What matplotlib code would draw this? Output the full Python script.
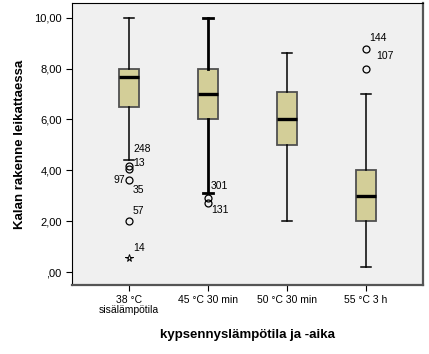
import numpy as np
import matplotlib
matplotlib.use("Agg")
import matplotlib.pyplot as plt

plt.rcParams['font.family'] = ['Liberation Sans', 'DejaVu Sans']

# data
groups = ["38 °C\nsisälämpötila", "45 °C 30 min", "50 °C 30 min", "55 °C 3 h"]
whis_lo = [4.4, 3.1, 2.0, 0.2]
q1s = [6.5, 6.0, 5.0, 2.0]
medians = [7.67, 7.0, 6.0, 3.0]
q3s = [8.0, 8.0, 7.1, 4.0]
whis_hi = [10.0, 10.0, 8.6, 7.0]

# outliers (circles) per group
outliers = [[4.17, 4.05, 3.62, 2.0], [2.9, 2.7], [], [8.78, 8.0]]
# extreme values (stars)
extremes = [[0.55], [], [], []]

# case labels: (group, value, text, dx, dy) offsets in pixels
case_labels = [
    (1, 4.17, "248", 4, 17),
    (1, 4.05, "13", 4, 6),
    (1, 3.62, "97", -4, 0),
    (1, 3.62, "35", 4, -10),
    (1, 2.0, "57", 4, 10),
    (1, 0.55, "14", 4, 10),
    (2, 2.9, "301", 3, 12),
    (2, 2.7, "131", 3, -7),
    (4, 8.78, "144", 3, 11),
    (4, 8.0, "107", 10, 13),
]

yticks = [0, 2, 4, 6, 8, 10]
ytick_labels = [",00", "2,00", "4,00", "6,00", "8,00", "10,00"]

fig = plt.figure(figsize=(4.29, 3.54), dpi=100)
ax = fig.add_axes([0.168, 0.195, 0.818, 0.797])
ax.set_facecolor("#f0f0f0")

positions = np.arange(1, len(groups) + 1)
stats = []
for i in range(len(groups)):
    stats.append(dict(med=medians[i], q1=q1s[i], q3=q3s[i],
                      whislo=whis_lo[i], whishi=whis_hi[i],
                      fliers=outliers[i]))

bp = ax.bxp(stats, positions=positions, widths=0.26, capwidths=0.13,
            patch_artist=True, showfliers=True)

for i, box in enumerate(bp['boxes']):
    box.set_facecolor("#d3ce98")
    box.set_edgecolor("#505050")
    box.set_linewidth(1.3)
for m in bp['medians']:
    m.set_color("black")
    m.set_linewidth(2.4)
for i, w in enumerate(bp['whiskers']):
    w.set_color("black")
    w.set_linewidth(2.0 if i // 2 == 1 else 1.1)
for i, c in enumerate(bp['caps']):
    c.set_color("black")
    c.set_linewidth(2.0 if i // 2 == 1 else 1.1)
for f in bp['fliers']:
    f.set_marker('o')
    f.set_markerfacecolor('none')
    f.set_markeredgecolor('black')
    f.set_markersize(5)
    f.set_markeredgewidth(0.9)

for i, ext in enumerate(extremes):
    if ext:
        ax.plot([positions[i]] * len(ext), ext, linestyle='none', marker='*',
                markerfacecolor='none', markeredgecolor='black',
                markersize=5.5, markeredgewidth=0.7)

for g, val, txt, dx, dy in case_labels:
    ha = 'left' if dx > 0 else 'right'
    ax.annotate(txt, xy=(g, val), xytext=(dx * 0.72, dy * 0.72),
                textcoords='offset points', ha=ha, va='center', fontsize=7.5)

ax.set_xlim(0.28, 4.72)
ax.set_ylim(-0.51, 10.59)
ax.set_xticks(positions)
ax.set_xticklabels(groups, fontsize=7.5, linespacing=1.0)
ax.set_yticks(yticks)
ax.set_yticklabels(ytick_labels, fontsize=8)
ax.tick_params(axis='both', length=4, width=0.8, color='black')

ax.spines['left'].set_color('black')
ax.spines['top'].set_color('black')
ax.spines['left'].set_linewidth(0.8)
ax.spines['top'].set_linewidth(0.8)
ax.spines['right'].set_color('#555555')
ax.spines['bottom'].set_color('#555555')
ax.spines['right'].set_linewidth(1.6)
ax.spines['bottom'].set_linewidth(1.6)

ax.set_ylabel("Kalan rakenne leikattaessa", fontsize=9.5, fontweight='bold', labelpad=6)
ax.set_xlabel("kypsennyslämpötila ja -aika", fontsize=9.5, fontweight='bold', labelpad=10)

fig.savefig("out.png", dpi=100)
